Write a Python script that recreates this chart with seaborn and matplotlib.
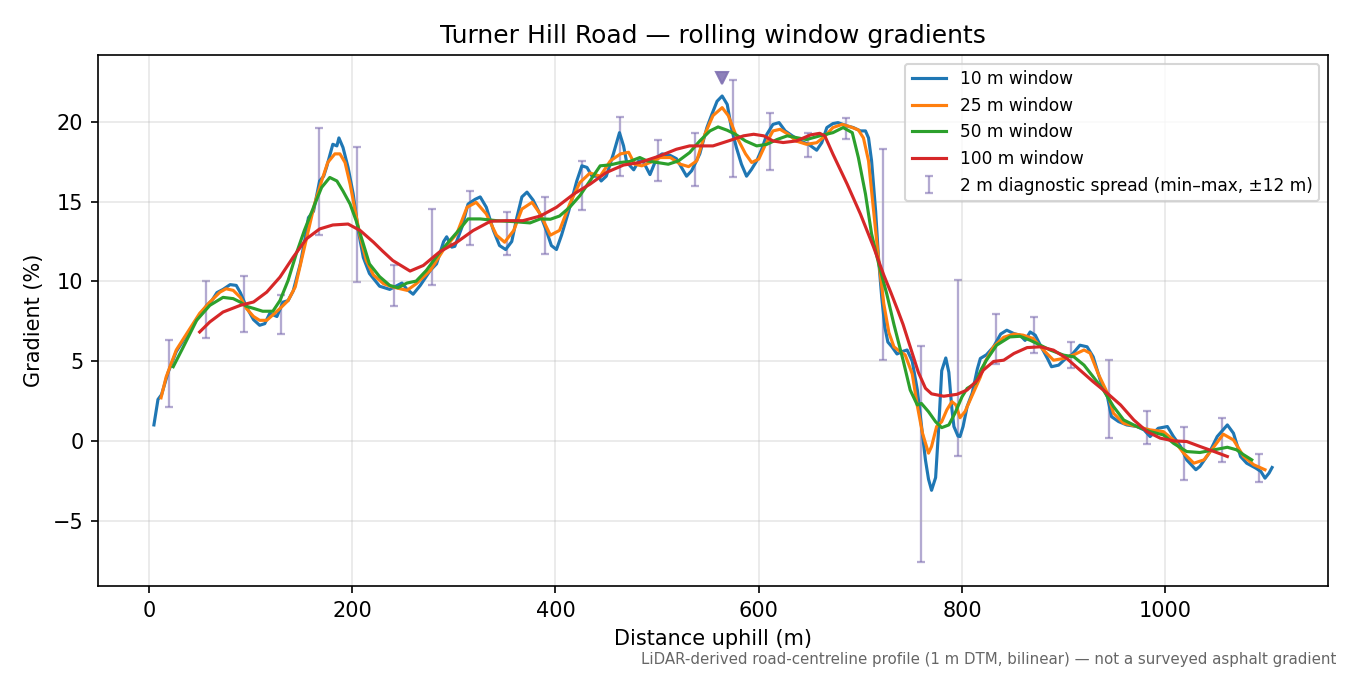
import matplotlib
matplotlib.use("Agg")
import matplotlib.pyplot as plt
import numpy as np
import pandas as pd
import seaborn as sns

# distances (m) and gradients (%)
dist_10 = [5, 9, 12.5, 19, 27, 40, 47, 57, 62, 67, 73, 80, 86, 90, 96, 103, 109, 114, 119, 126,
           132, 137, 142, 149, 154, 157, 162, 168, 172, 175, 181, 185, 187, 191, 196, 201, 206, 211, 217, 227,
           237, 249, 254, 260, 267, 277, 283, 290, 293, 298, 301, 308, 314, 321, 326, 332, 339, 345, 351, 357,
           362, 367, 372, 378, 385, 391, 396, 401, 406, 413, 421, 426, 431, 436, 442, 445, 450, 457, 463, 467,
           470, 472, 477, 482, 486, 493, 500, 505, 513, 519, 524, 529, 534, 542, 549, 554, 559, 564, 569, 573,
           578, 583, 588, 593, 598, 603, 608, 614, 620, 626, 633, 641, 649, 657, 662, 667, 673, 678, 687, 693,
           700, 705, 708, 711, 715, 718, 721, 724, 727, 731, 736, 741, 746, 751, 756, 760, 764, 767, 770, 774,
           777, 780, 784, 787, 790, 792, 796, 798, 801, 805, 810, 815, 818, 824, 831, 838, 844, 851, 857, 862,
           867, 872, 877, 884, 888, 895, 902, 908, 916, 923, 929, 936, 943, 947, 954, 962, 972, 979, 985, 993,
           1002, 1008, 1015, 1021, 1030, 1034, 1043, 1051, 1061, 1067, 1074, 1080, 1089, 1094, 1098, 1102, 1105]
grad_10 = [1.0, 2.6, 2.9, 4.3, 5.6, 6.9, 7.6, 8.5, 8.8, 9.3, 9.5, 9.8, 9.75, 9.3, 8.4, 7.6, 7.25, 7.35, 8.0, 7.8,
           8.7, 8.8, 9.4, 11.1, 12.8, 14.0, 14.4, 16.3, 16.6, 17.2, 18.6, 18.5, 19.0, 18.4, 17.15, 15.5, 13.2, 11.5, 10.5, 9.7,
           9.5, 9.9, 9.5, 9.2, 9.75, 10.7, 11.1, 12.5, 12.8, 12.15, 12.2, 13.4, 14.85, 15.15, 15.3, 14.65, 13.2, 12.25, 12.0, 12.5,
           14.0, 15.3, 15.6, 15.1, 14.2, 13.2, 12.25, 12.0, 12.9, 14.4, 16.3, 17.25, 17.15, 16.6, 16.6, 16.3, 16.6, 18.0, 19.33, 18.5,
           17.5, 17.35, 17.0, 17.56, 17.56, 16.7, 17.8, 18.0, 17.9, 17.7, 17.15, 16.6, 16.94, 18.0, 19.65, 20.5, 21.3, 21.63, 21.1, 19.65,
           18.4, 17.35, 16.6, 17.04, 17.56, 18.3, 19.23, 19.85, 19.96, 19.44, 19.13, 18.8, 18.6, 18.23, 18.7, 19.65, 19.9, 19.96, 19.75, 19.65,
           19.44, 19.44, 19.0, 17.56, 14.4, 11.3, 9.0, 7.15, 6.2, 5.9, 5.45, 5.6, 5.7, 5.0, 3.2, 1.0, -1.2, -2.4, -3.1, -2.3,
           0.8, 4.4, 5.2, 4.3, 2.0, 0.9, 0.3, 0.27, 0.9, 2.15, 3.0, 4.5, 5.17, 5.4, 5.9, 6.7, 6.94, 6.73, 6.63, 6.3,
           6.83, 6.63, 6.0, 5.17, 4.65, 4.75, 5.17, 5.4, 6.0, 5.9, 5.27, 3.8, 2.77, 1.52, 1.21, 1.0, 0.9, 0.69, 0.27, 0.79,
           0.9, 0.27, -0.35, -1.19, -1.81, -1.6, -0.77, 0.27, 1.0, 0.48, -0.98, -1.4, -1.71, -1.92, -2.34, -2.02, -1.67]

dist_25 = [12, 17, 27, 40, 50, 60, 70, 76, 83, 90, 96, 103, 109, 116, 122, 129, 137, 144, 150, 157,
           163, 170, 176, 183, 188, 193, 198, 203, 208, 214, 221, 231, 240, 254, 263, 277, 290, 303, 313, 322,
           332, 342, 350, 359, 367, 377, 385, 395, 404, 414, 424, 434, 444, 454, 464, 472, 478, 485, 493, 503,
           513, 523, 531, 539, 547, 555, 564, 570, 578, 587, 593, 600, 606, 614, 621, 629, 637, 647, 657, 665,
           673, 682, 690, 698, 703, 708, 713, 718, 723, 728, 733, 739, 744, 751, 756, 761, 767, 770, 775, 780,
           785, 790, 794, 798, 803, 811, 818, 823, 831, 841, 851, 860, 870, 880, 890, 900, 910, 920, 926, 934,
           943, 949, 959, 972, 985, 998, 1008, 1018, 1028, 1038, 1048, 1057, 1067, 1077, 1087, 1098]
grad_25 = [2.7, 4.0, 5.7, 7.0, 8.0, 8.7, 9.33, 9.54, 9.44, 9.0, 8.3, 7.8, 7.56, 7.56, 7.9, 8.3, 8.8, 9.65, 11.3, 13.2,
           14.85, 16.3, 17.46, 18.0, 18.0, 17.46, 16.1, 14.44, 12.77, 11.3, 10.4, 9.85, 9.65, 9.44, 9.85, 10.7, 12.0, 13.0, 14.65, 14.96,
           14.23, 12.9, 12.46, 13.2, 14.54, 14.96, 14.23, 12.9, 13.2, 14.85, 16.2, 16.8, 16.6, 17.56, 18.0, 18.1, 17.35, 17.25, 17.46, 17.77,
           17.77, 17.35, 17.2, 17.56, 19.23, 20.4, 20.9, 20.4, 19.1, 18.0, 17.46, 17.67, 18.5, 19.44, 19.54, 19.23, 18.8, 18.6, 18.7, 19.1,
           19.65, 19.85, 19.7, 19.5, 19.0, 17.56, 14.44, 11.3, 8.6, 6.8, 5.9, 5.6, 5.4, 4.2, 2.2, 0.5, -0.77, -0.35, 0.9, 1.2,
           1.94, 2.46, 2.25, 1.45, 1.85, 3.0, 4.0, 5.0, 5.9, 6.5, 6.7, 6.63, 6.42, 5.7, 5.06, 5.17, 5.4, 5.7, 5.5, 4.2,
           3.0, 1.73, 1.1, 0.9, 0.69, 0.58, 0.06, -0.77, -1.4, -1.19, -0.35, 0.42, 0.06, -0.98, -1.5, -1.81]

dist_50 = [24, 34, 47, 60, 73, 83, 90, 96, 104, 112, 122, 129, 137, 145, 153, 162, 170, 178, 185, 191,
           198, 204, 211, 217, 227, 237, 245, 254, 263, 273, 285, 296, 306, 314, 326, 342, 359, 375, 385, 395,
           404, 414, 424, 434, 444, 454, 464, 473, 483, 490, 500, 511, 521, 532, 542, 552, 560, 569, 577, 587,
           598, 608, 618, 628, 637, 647, 660, 673, 683, 692, 698, 705, 711, 718, 726, 733, 742, 749, 756, 760,
           767, 774, 780, 787, 793, 800, 805, 813, 819, 824, 834, 847, 857, 867, 877, 887, 900, 910, 920, 929,
           939, 949, 959, 972, 985, 998, 1008, 1021, 1034, 1048, 1061, 1070, 1077, 1085]
grad_50 = [4.65, 5.9, 7.56, 8.5, 9.0, 8.92, 8.7, 8.44, 8.29, 8.13, 8.13, 8.8, 10.06, 11.73, 13.2, 14.65, 15.9, 16.52, 16.3, 15.67,
           14.85, 13.8, 12.35, 11.1, 10.3, 9.75, 9.6, 9.9, 10.02, 10.69, 11.73, 12.56, 13.29, 13.92, 13.92, 13.81, 13.75, 13.67, 13.92, 13.9,
           14.1, 14.65, 15.375, 16.31, 17.25, 17.31, 17.46, 17.52, 17.77, 17.56, 17.46, 17.35, 17.56, 18.08, 18.81, 19.44, 19.69, 19.48, 19.23, 18.81,
           18.5, 18.6, 18.9, 19.13, 19.02, 18.9, 19.13, 19.33, 19.65, 19.33, 17.77, 15.48, 12.98, 11.1, 9.2, 7.3, 5.06, 3.19, 2.25, 2.35,
           1.83, 1.2, 0.83, 1.0, 1.73, 2.77, 3.29, 3.6, 4.5, 5.06, 6.0, 6.52, 6.56, 6.31, 6.0, 5.69, 5.375, 5.27, 4.75, 4.02,
           3.19, 2.15, 1.31, 0.9, 0.58, 0.375, -0.15, -0.67, -0.73, -0.56, -0.4, -0.56, -0.87, -1.19]

dist_100 = [50, 60, 73, 90, 103, 116, 129, 142, 155, 168, 181, 196, 208, 221, 230, 240, 257, 270, 286, 303,
            319, 336, 351, 368, 385, 401, 418, 434, 450, 467, 483, 503, 519, 532, 555, 572, 585, 595, 605, 614,
            624, 637, 651, 660, 665, 673, 687, 700, 713, 723, 730, 737, 742, 749, 757, 764, 770, 782, 795, 805,
            815, 821, 831, 841, 851, 864, 877, 890, 903, 916, 929, 943, 956, 969, 982, 995, 1008, 1021, 1034, 1048,
            1061]
grad_100 = [6.83, 7.46, 8.08, 8.5, 8.71, 9.33, 10.27, 11.52, 12.67, 13.29, 13.54, 13.6, 13.19, 12.46, 11.9, 11.31, 10.65, 11.0, 11.85, 12.46,
            13.19, 13.77, 13.81, 13.81, 14.1, 14.65, 15.48, 16.1, 16.83, 17.3, 17.46, 17.88, 18.29, 18.5, 18.5, 18.85, 19.13, 19.23, 19.13, 18.81,
            18.71, 18.81, 19.19, 19.29, 19.125, 17.98, 16.1, 14.23, 12.15, 10.4, 9.3, 8.15, 7.3, 5.9, 4.3, 3.3, 2.95, 2.8, 2.92, 3.19,
            3.8, 4.44, 4.98, 5.06, 5.48, 5.85, 5.9, 5.69, 5.17, 4.44, 3.71, 2.98, 2.25, 1.31, 0.58, 0.17, 0.0, -0.04, -0.35, -0.67,
            -0.98]

# 2 m diagnostic spread (min / max within +-12 m)
spread_x = [19.5, 56.5, 93.5, 130.5, 167.5, 204.5, 241.5, 278.5, 315.5, 352.5, 389.5, 426.5, 463.5, 500.5, 537.5,
            574.5, 611.5, 648.5, 685.5, 722.5, 759.5, 796.5, 833.5, 870.5, 907.5, 944.5, 981.5, 1018.5, 1055.5, 1092.5]
spread_lo = [2.15, 6.46, 6.83, 6.71, 12.9, 9.96, 8.46, 9.77, 12.27, 11.65, 11.71, 14.46, 16.62, 16.27, 15.96,
             16.52, 16.96, 17.83, 18.96, 5.06, -7.6, -0.92, 4.81, 5.52, 4.58, 0.21, -0.17, -2.44, -1.35, -2.56]
spread_hi = [6.3, 10.0, 10.33, 9.17, 19.65, 18.46, 11.06, 14.52, 15.69, 14.38, 15.31, 17.58, 20.31, 18.88, 19.33,
             22.63, 20.56, 19.33, 20.25, 18.33, 5.94, 10.06, 7.94, 7.77, 6.19, 5.06, 1.9, 0.9, 1.46, -0.85]

# steepest point marker
peak_x = [564]
peak_y = [22.75]

windows = ["10 m window", "25 m window", "50 m window", "100 m window"]
colors = ["#1f77b4", "#ff7f0e", "#2ca02c", "#d62728"]
series = [(dist_10, grad_10), (dist_25, grad_25), (dist_50, grad_50), (dist_100, grad_100)]

fig, ax = plt.subplots(figsize=(9, 4.5), dpi=150)
fig.subplots_adjust(left=0.0726, right=0.9837, top=0.9185, bottom=0.1319)

for (xs, ys), name, col in zip(series, windows, colors):
    d = pd.DataFrame({"dist": xs, "grad": ys})
    sns.lineplot(data=d, x="dist", y="grad", color=col, linewidth=1.5, label=name, ax=ax)

lo = np.array(spread_lo)
hi = np.array(spread_hi)
mid = (lo + hi) / 2
ax.errorbar(spread_x, mid, yerr=[mid - lo, hi - mid], fmt="none", ecolor="#8172b3", alpha=0.6,
            elinewidth=1.1, capsize=2, capthick=1.1, zorder=1.5,
            label="2 m diagnostic spread (min\u2013max, \u00b112 m)")
ax.plot(peak_x, peak_y, marker="v", linestyle="none", color="#8172b3", markersize=5.5,
        alpha=0.9, label="_nolegend_", zorder=3)

ax.set_xlim(-50, 1160)
ax.set_ylim(-9.1, 24.2)
ax.grid(True, alpha=0.3)
ax.set_xlabel("Distance uphill (m)")
ax.set_ylabel("Gradient (%)")
ax.set_title("Turner Hill Road \u2014 rolling window gradients")
ax.legend(loc="upper right", fontsize=8.2)

fig.text(0.99, 0.012, "LiDAR-derived road-centreline profile (1 m DTM, bilinear) \u2014 not a surveyed asphalt gradient",
         ha="right", va="bottom", fontsize=7.2, color="#666666")

fig.savefig("out.png", dpi=150)
